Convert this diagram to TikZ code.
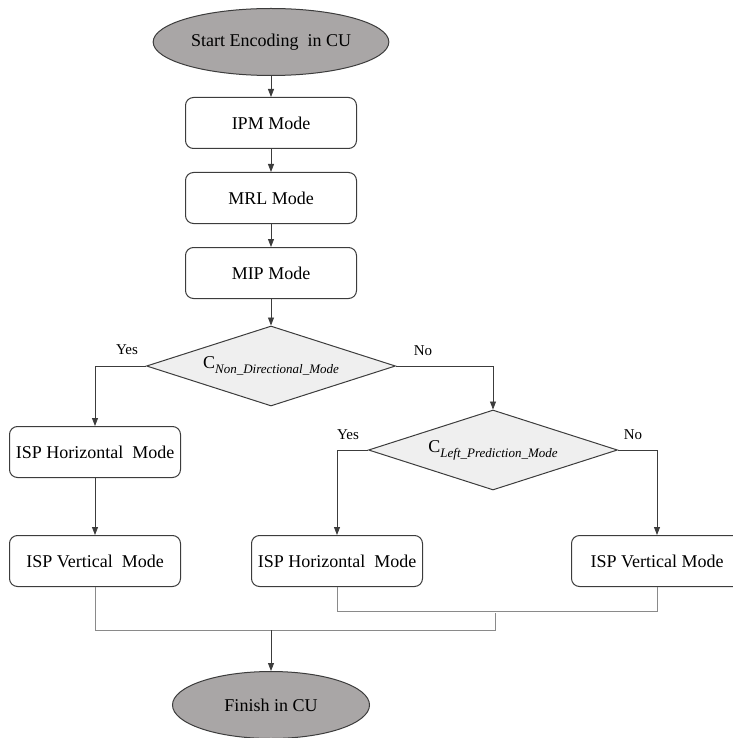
\documentclass[tikz,border=0pt]{standalone}
\usepackage{fontspec}
\setmainfont{Liberation Serif}
\usetikzlibrary{arrows.meta,shapes.geometric,positioning}
\definecolor{termgray}{HTML}{A9A6A6}
\definecolor{decgray}{HTML}{EFEFEF}
\definecolor{edgegray}{HTML}{3C3C3C}
\definecolor{joingray}{HTML}{8A8A8A}
\tikzset{terminal/.style={ellipse, draw=edgegray, fill=termgray, line width=1pt, minimum width=197pt, minimum height=67pt, font=\fontsize{18}{20}\selectfont},
	decision/.style={diamond, draw=edgegray, fill=decgray, line width=1pt, aspect=3.1, inner sep=0pt, minimum width=249pt, minimum height=80pt}
}
\tikzstyle{mode_box} = [draw=edgegray, rounded corners=8pt, line width=1pt, minimum width=171pt, minimum height=51pt, inner sep=3pt, font=\fontsize{18}{20}\selectfont]
\tikzstyle{branch_label} = [inner sep=0pt, font=\fontsize{15}{17}\selectfont]
\tikzstyle{flow_line} = [draw=edgegray, line width=0.8pt]
\tikzstyle{merge_line} = [draw=joingray, line width=0.8pt]
\newcommand{\condtext}[1]{{\fontsize{18}{20}\selectfont C}\raisebox{-5pt}{\fontsize{13}{15}\selectfont\itshape #1}}

\begin{document}
\begin{tikzpicture}[node distance=75pt, >={Triangle[length=8pt,width=6pt]}]
				\useasboundingbox (0,0) rectangle (732pt,-738pt);
				\node[terminal] (start) at (271pt,-42pt) {Start Encoding\ \ in CU};
				\node[mode_box, below of=start, yshift=-6pt] (ipm) {IPM Mode};
				\node[mode_box, below of=ipm] (mrl) {MRL Mode};
				\node[mode_box, below of=mrl] (mip) {MIP Mode};
				\node[decision, below of=mip, yshift=-18pt] (dec1) {\condtext{Non\_Directional\_Mode}};
				
				\node[mode_box, below of=dec1, xshift=-176pt, yshift=-11pt] (lhor) {ISP Horizontal\ \ Mode};
				\node[mode_box, below of=lhor, yshift=-34pt] (lver) {ISP Vertical\ \ Mode};
				
				\node[decision, below of=dec1, xshift=222pt, yshift=-9pt] (dec2) {\condtext{Left\_Prediction\_Mode}};
				\node[mode_box, below of=dec2, xshift=-156pt, yshift=-36pt] (rhor) {ISP Horizontal\ \ Mode};
				\node[mode_box, below of=dec2, xshift=164pt, yshift=-36pt] (rver) {ISP Vertical Mode};
				
				\node[terminal, below of=lver, xshift=176pt, yshift=-69pt] (finish) {Finish in CU};
				
				\node[branch_label] (yes1) at (127pt,-350pt) {Yes};
				\node[branch_label] (no1) at (423pt,-351pt) {No};
				\node[branch_label] (yes2) at (348pt,-435pt) {Yes};
				\node[branch_label] (no2) at (633pt,-435pt) {No};
				
				% draw lines
				\draw[flow_line, ->] (start) -- (ipm);
				\draw[flow_line, ->] (ipm) -- (mrl);
				\draw[flow_line, ->] (mrl) -- (mip);
				\draw[flow_line, ->] (mip) -- (dec1);
				\draw[flow_line, ->] (dec1.west) -| (lhor.north);
				\draw[flow_line, ->] (dec1.east) -| (dec2.north);
				\draw[flow_line, ->] (lhor) -- (lver);
				\draw[flow_line, ->] (dec2.west) -| (rhor.north);
				\draw[flow_line, ->] (dec2.east) -| (rver.north);
				
				% join the branches
				\coordinate (rjoin) at (495pt,-613pt);
				\coordinate (join) at (271pt,-630pt);
				\draw[merge_line] (rhor.south) -- ++(0,-24pt) -| (rver.south);
				\draw[merge_line] (lver.south) |- (rjoin |- join) -- (rjoin);
				\draw[flow_line, ->] (join) -- (finish);
			\end{tikzpicture}
\end{document}
